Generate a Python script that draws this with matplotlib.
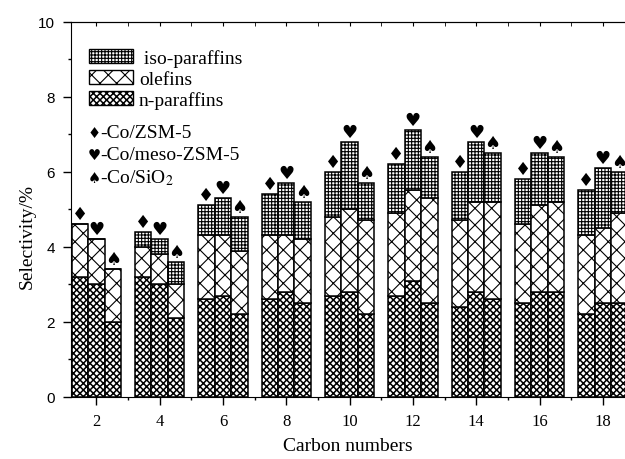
import matplotlib
matplotlib.use('Agg')
import matplotlib.pyplot as plt
from matplotlib.patches import Patch
from matplotlib.ticker import MultipleLocator
import numpy as np

# selectivity (%), split by product type
carbons = [2, 4, 6, 8, 10, 12, 14, 16, 18]
catalysts = ['Co/ZSM-5', 'Co/meso-ZSM-5', 'Co/SiO$_2$']
symbols = ['\u2666', '\u2665', '\u2660']

n_paraffins = [
    [3.2, 3.2, 2.6, 2.6, 2.7, 2.7, 2.4, 2.5, 2.2],
    [3.0, 3.0, 2.7, 2.8, 2.8, 3.1, 2.8, 2.8, 2.5],
    [2.0, 2.1, 2.2, 2.5, 2.2, 2.5, 2.6, 2.8, 2.5],
]
olefins = [
    [1.4, 0.8, 1.7, 1.7, 2.1, 2.2, 2.3, 2.1, 2.1],
    [1.2, 0.8, 1.6, 1.5, 2.2, 2.4, 2.4, 2.3, 2.0],
    [1.4, 0.9, 1.7, 1.7, 2.5, 2.8, 2.6, 2.4, 2.4],
]
iso_paraffins = [
    [0.0, 0.4, 0.8, 1.1, 1.2, 1.3, 1.3, 1.2, 1.2],
    [0.0, 0.4, 1.0, 1.4, 1.8, 1.6, 1.6, 1.4, 1.6],
    [0.0, 0.6, 0.9, 1.0, 1.0, 1.1, 1.3, 1.2, 1.1],
]

serif = 'Liberation Serif'
plt.rcParams['hatch.linewidth'] = 0.8
plt.rcParams['mathtext.fontset'] = 'stix'

fig = plt.figure(figsize=(6.25, 4.6), dpi=100)
ax = fig.add_axes([0.1136, 0.135, 0.8864, 0.816])


def thick_hatch(patches, lw=1.1):
    # darker checker for the n-paraffin layer
    for p in patches:
        if hasattr(p, 'set_hatch_linewidth'):
            p.set_hatch_linewidth(lw)


w = 0.52
hatch_n, hatch_o, hatch_i = 'xxxxx', 'xx', '+++++'
for i in range(3):
    x = np.array(carbons) + (i - 1) * w
    n = np.array(n_paraffins[i])
    o = np.array(olefins[i])
    s = np.array(iso_paraffins[i])
    kw = dict(width=w, color='white', edgecolor='black', linewidth=1.1)
    bars = ax.bar(x, n, hatch=hatch_n, **kw)
    thick_hatch(bars)
    ax.bar(x, o, bottom=n, hatch=hatch_o, **kw)
    ax.bar(x, s, bottom=n + o, hatch=hatch_i, **kw)
    for xi, top in zip(x, n + o + s):
        ax.text(xi, top + 0.27, symbols[i], ha='center', va='center',
                fontsize=13, family='DejaVu Sans')

ax.set_xlim(1.2, 18.7)
ax.set_ylim(0, 10)
ax.spines['right'].set_visible(False)
ax.xaxis.set_major_locator(MultipleLocator(2))
ax.xaxis.set_minor_locator(MultipleLocator(1))
ax.yaxis.set_major_locator(MultipleLocator(2))
ax.yaxis.set_minor_locator(MultipleLocator(1))
ax.tick_params(axis='both', which='major', direction='out', length=5.5, width=1)
ax.tick_params(axis='both', which='minor', direction='out', length=2.5, width=1)
ax.tick_params(axis='x', which='major', pad=6)
ax.tick_params(axis='y', which='major', labelsize=11, pad=6)
for lab in ax.get_yticklabels():
    lab.set_family('Liberation Sans')
for lab in ax.get_xticklabels():
    lab.set_family(serif)
    lab.set_fontsize(12)

top = ax.secondary_xaxis('top')
top.xaxis.set_major_locator(MultipleLocator(2))
top.xaxis.set_minor_locator(MultipleLocator(1))
top.tick_params(which='both', direction='in', labeltop=False, length=3)

ax.set_xlabel('Carbon numbers', family=serif, fontsize=14, labelpad=6)
ax.set_ylabel('Selectivity/%', family=serif, fontsize=14)
ax.yaxis.set_label_coords(-0.063, 0.43)

handles = [Patch(facecolor='white', edgecolor='black', hatch=h) for h in (hatch_i, hatch_o, hatch_n)]
leg = ax.legend(handles, [' iso-paraffins', 'olefins', 'n-paraffins'], loc='upper left',
                bbox_to_anchor=(0.0325, 0.927), frameon=False, borderpad=0, borderaxespad=0,
                handlelength=2.27, handleheight=0.77, labelspacing=0.15, handletextpad=0.3,
                prop={'family': serif, 'size': 14})
thick_hatch(leg.get_patches()[2:])

for k in range(3):
    yk = 0.705 - k * 0.06
    ax.text(0.0415, yk, symbols[k], transform=ax.transAxes, ha='center', va='center',
            fontsize=10.5, family='DejaVu Sans')
    ax.text(0.052, yk, '-' + catalysts[k], transform=ax.transAxes, ha='left', va='center',
            fontsize=14, family=serif)

fig.savefig('out.png', dpi=100)
